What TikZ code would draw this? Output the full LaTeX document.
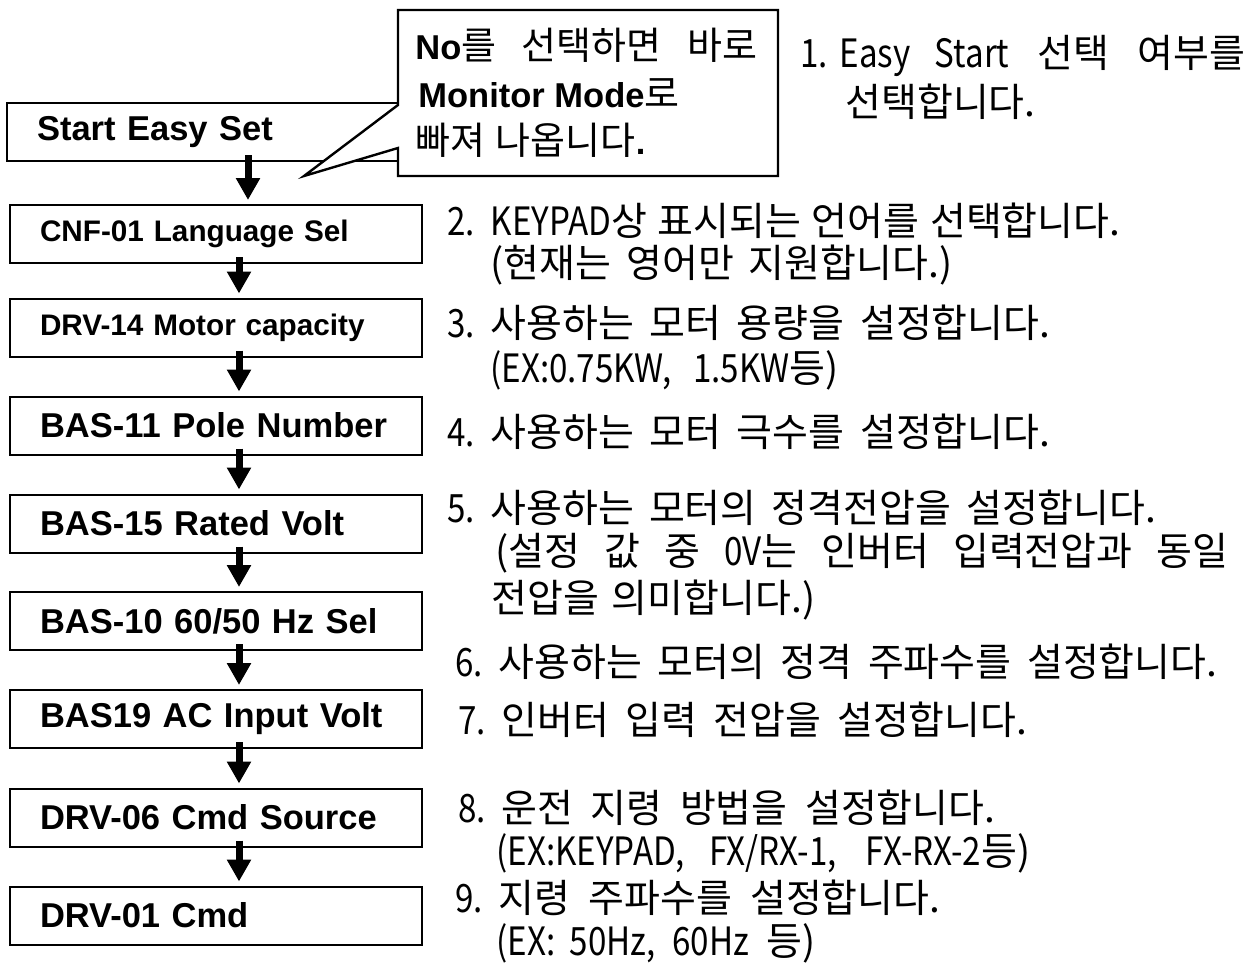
\documentclass[tikz,border=0pt]{standalone}
\usepackage{fontspec}
\setmainfont{Liberation Sans}
\newfontfamily\kr{Noto Sans CJK KR}
\newfontfamily\krl[FakeStretch=0.85]{Noto Sans CJK KR}
\usetikzlibrary{arrows.meta,calc}
% spread a line of text over a given width
\newcommand{\jline}[2]{\makebox[#1][s]{#2}}
\newcommand{\krc}[1]{{\kr\mdseries\fontsize{19}{22}\selectfont #1}}
\newcommand{\lt}[1]{{\krl #1}}
\newcommand{\nr}[1]{\lt{#1.}\hspace{0.4em}}

\begin{document}
\begin{tikzpicture}[
  x=0.5pt, y=-0.5pt,
  box/.style={draw=black, line width=1pt, text width=176pt, minimum height=29pt,
              inner xsep=15pt, inner ysep=0pt, align=left,
              font=\bfseries\fontsize{17.25}{20}\selectfont},
  small/.style={box, font=\bfseries\fontsize{14.85}{18}\selectfont},
  desc/.style={anchor=west, inner sep=0pt, font=\kr\fontsize{19.5}{23}\selectfont},
  cl/.style={anchor=west, inner sep=0pt, font=\bfseries\fontsize{17.25}{20}\selectfont},
  ar/.style={-{Triangle[length=11pt, width=11.5pt]}, line width=3.5pt}]

\useasboundingbox (0,0) rectangle (1253,964);

% flow boxes
\node[box]   (start) at (213,132)   {Start Easy Set};
\node[small] (cnf)   at (216,234)   {CNF-01 Language Sel};
\node[small] (motor) at (216,327.5) {DRV-14 Motor capacity};
\node[box]   (pole)  at (216,425.5) {BAS-11 Pole Number};
\node[box]   (volt)  at (216,523.5) {BAS-15 Rated Volt};
\node[box]   (freq)  at (216,621)   {BAS-10 60/50 Hz Sel};
\node[box]   (acin)  at (216,719)   {BAS19 AC Input Volt};
\node[box]   (src)   at (216,817.5) {DRV-06 Cmd Source};
\node[box]   (cmd)   at (216,915.5) {DRV-01 Cmd};

\draw[ar] ([xshift=17.5pt,yshift=3.5pt]start.south) -- ([xshift=16pt,yshift=2pt]cnf.north);
\draw[ar] ([xshift=11.5pt,yshift=3.5pt]cnf.south)   -- ([xshift=11.5pt,yshift=2pt]motor.north);
\draw[ar] ([xshift=11.5pt,yshift=3.5pt]motor.south) -- ([xshift=11.5pt,yshift=2pt]pole.north);
\draw[ar] ([xshift=11.5pt,yshift=3.5pt]pole.south)  -- ([xshift=11.5pt,yshift=2pt]volt.north);
\draw[ar] ([xshift=11.5pt,yshift=3.5pt]volt.south)  -- ([xshift=11.5pt,yshift=2pt]freq.north);
\draw[ar] ([xshift=11.5pt,yshift=3.5pt]freq.south)  -- ([xshift=11.5pt,yshift=2pt]acin.north);
\draw[ar] ([xshift=11.5pt,yshift=3.5pt]acin.south)  -- ([xshift=11.5pt,yshift=2pt]src.north);
\draw[ar] ([xshift=11.5pt,yshift=3.5pt]src.south)   -- ([xshift=11.5pt,yshift=2pt]cmd.north);

% callout over the first box
\coordinate (tip) at (304,176);
\filldraw[fill=white, line width=1.2pt] (398,10) -- (778,10) -- (778,176) -- (398,176)
   -- (398,148) -- (tip) -- (398,105) -- cycle;
\node[cl] (c1) at (415,45)  {\jline{171pt}{No\krc{를 선택하면 바로}}};
\node[cl] (c2) at (418,93)  {Monitor Mode\krc{로}};
\node[cl] (c3) at (415,140) {\jline{115pt}{\krc{빠져 나옵니다}.}};

% step notes on the right
\node[desc] (t1)  at (800,56)  {\jline{222.5pt}{\lt{1.}\hspace{0.3em}\lt{Easy Start} 선택 여부를}};
\node[desc] (t1b) at (845,102) {선택합니다.};
\node[desc] (t2)  at (447,221) {\jline{336.5pt}{\nr{2}\lt{KEYPAD}상 표시되는 언어를 선택합니다.}};
\node[desc] (t2b) at (490,265) {\jline{231pt}{(현재는 영어만 지원합니다.)}};
\node[desc] (t3)  at (447,323) {\jline{301.5pt}{\nr{3}사용하는 모터 용량을 설정합니다.}};
\node[desc] (t3b) at (490,370) {\jline{174pt}{\lt{(EX:0.75KW, 1.5KW}등)}};
\node[desc] (t4)  at (447,432) {\jline{301.5pt}{\nr{4}사용하는 모터 극수를 설정합니다.}};
\node[desc] (t5)  at (447,508) {\jline{354.5pt}{\nr{5}사용하는 모터의 정격전압을 설정합니다.}};
\node[desc] (t5b) at (495,553) {\jline{366.5pt}{(설정 값 중 \lt{0V}는 인버터 입력전압과 동일}};
\node[desc] (t5c) at (491,600) {\jline{162pt}{전압을 의미합니다.)}};
\node[desc] (t6)  at (455,662) {\jline{381pt}{\nr{6}사용하는 모터의 정격 주파수를 설정합니다.}};
\node[desc] (t7)  at (458,720) {\jline{284.5pt}{\nr{7}인버터 입력 전압을 설정합니다.}};
\node[desc] (t8)  at (458,808) {\jline{268.5pt}{\nr{8}운전 지령 방법을 설정합니다.}};
\node[desc] (t8b) at (496,853) {\jline{267pt}{\lt{(EX:KEYPAD, FX/RX-1, FX-RX-2}등)}};
\node[desc] (t9)  at (455,898) {\jline{242.5pt}{\nr{9}지령 주파수를 설정합니다.}};
\node[desc] (t9b) at (496,943) {\jline{159.5pt}{\lt{(EX: 50Hz, 60Hz} 등)}};
\end{tikzpicture}
\end{document}
